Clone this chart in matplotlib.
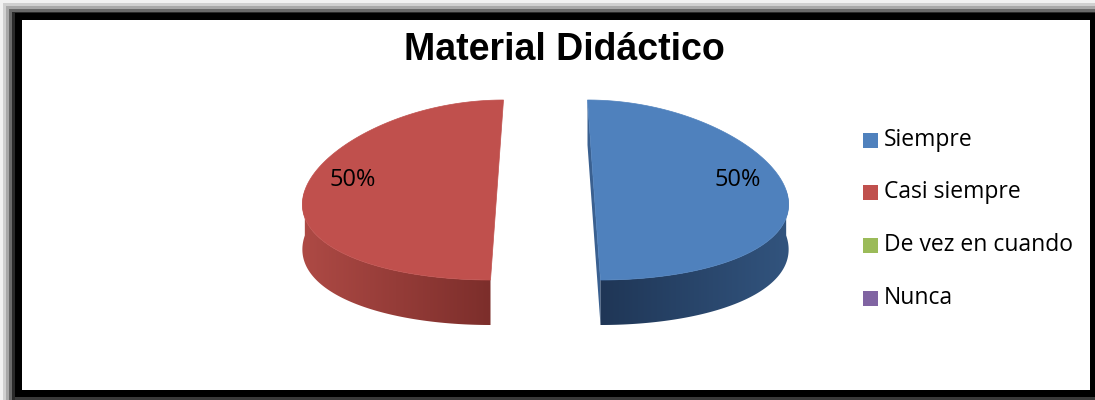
import numpy as np
import matplotlib
matplotlib.use("Agg")
import matplotlib.pyplot as plt
from matplotlib.patches import Polygon, Rectangle
from matplotlib.colors import to_rgb

# Chart data
title = "Material Didáctico"
categories = ["Siempre", "Casi siempre", "De vez en cuando", "Nunca"]
values = [50, 50, 0, 0]
colors = ["#4F81BD", "#C0504D", "#9BBB59", "#8064A2"]
side_shades = {"#4F81BD": ("#32547E", "#1F3656"), "#C0504D": ("#AE4A45", "#7C2E2B")}

# Pie geometry in pixel units (figure is 1095 x 400 px)
W, H = 1095, 400
cx, cy = 545.5, 190.0
a, b = 192.0, 90.0        # semi axes of the top ellipse
depth = 45.0              # thickness of the 3-D pie
explode = 48.5
persp = 0.134             # front drawn wider than back


def project(u, v, h):
    """u: horizontal (px), v: depth in [-1, 1] (+1 = back), h: 0 top .. 1 bottom"""
    x = cx + u * (1 - persp * v)
    y = cy - b * v + depth * h
    return x, y


def gradient_fill(ax, pts, c_left, c_right):
    """Fill a polygon with a left-to-right colour gradient."""
    pts = np.asarray(pts)
    poly = Polygon(pts, closed=True, facecolor="none", edgecolor="none")
    ax.add_patch(poly)
    x0, x1 = pts[:, 0].min(), pts[:, 0].max()
    y0, y1 = pts[:, 1].min(), pts[:, 1].max()
    t = np.linspace(0, 1, 256)[None, :, None]
    img = np.array(to_rgb(c_left))[None, None, :] * (1 - t) + np.array(to_rgb(c_right))[None, None, :] * t
    im = ax.imshow(np.repeat(img, 2, axis=0), extent=(x0, x1, y1, y0), aspect="auto",
                   interpolation="bilinear", zorder=poly.get_zorder())
    im.set_clip_path(poly)


fig = plt.figure(figsize=(W / 100, H / 100), dpi=100)
ax = fig.add_axes([0, 0, 1, 1])

# Frame with soft shadow on top and left
shadow = ["#F2F2F2", "#D0D0D0", "#A8A8A8", "#6A6A6A", "#2A2A2A"]
for i, c in enumerate(shadow):
    ax.add_patch(Rectangle((3 * i, 3 * i), W - 3 * i, H - 3 * i, color=c, lw=0))
ax.add_patch(Rectangle((15, 13), W - 15, 384, color="black", lw=0))
ax.add_patch(Rectangle((15, 397), W - 15, 3, color="#3A3A3A", lw=0))
ax.add_patch(Rectangle((22, 20), 1090 - 22, 390 - 20, color="white", lw=0))

# Slices: first slice starts at 12 o'clock, going clockwise
total = float(sum(values))
start = 90.0
slices = []
for val, col in zip(values, colors):
    sweep = 360.0 * val / total
    if sweep > 0:
        slices.append((start - sweep, start, col))
    start -= sweep

for t0, t1, col in slices:
    mid = np.radians((t0 + t1) / 2)
    du = explode * np.cos(mid)
    dv = explode * np.sin(mid) / a
    phi = np.radians(np.linspace(t0, t1, 300))
    uu = du + a * np.cos(phi)
    vv = dv + np.sin(phi)

    # cut face on the right-hand slice, seen through the gap
    if du > 0:
        for ang in (t0, t1):
            r = np.radians(ang)
            pts = [project(du, dv, 0), project(du + a * np.cos(r), dv + np.sin(r), 0),
                   project(du + a * np.cos(r), dv + np.sin(r), 1), project(du, dv, 1)]
            ax.add_patch(Polygon(pts, closed=True, color="#3A6090", lw=0))

    # outer side, visible on the front half only
    light, dark = side_shades.get(col, (col, col))
    front = np.sin(phi) <= 0.001
    top_edge = [project(x, y, 0) for x, y in zip(uu[front], vv[front])]
    bottom_edge = [project(x, y, 1) for x, y in zip(uu[front], vv[front])]
    if len(top_edge) > 1:
        side = top_edge + bottom_edge[::-1]
        if du < 0:
            gradient_fill(ax, side, light, dark)
        else:
            gradient_fill(ax, side, dark, light)

    # top face
    top = [project(du, dv, 0)] + [project(x, y, 0) for x, y in zip(uu, vv)]
    ax.add_patch(Polygon(top, closed=True, facecolor=col, edgecolor=col, lw=0.5))

    # percentage label
    lx, ly = project(du + 0.75 * a * np.cos(mid), dv, 0)
    ax.text(lx, ly - 10, f"{round(100 * (t1 - t0) / 360)}%", ha="center", va="center",
            fontsize=17, family="Open Sans", color="black")

# Title
ax.text(564, 50, title, ha="center", va="center", fontsize=27, fontweight="bold",
        family="Liberation Sans")

# Legend
leg_y = [140, 192, 245, 298]
for name, col, y in zip(categories, colors, leg_y):
    ax.add_patch(Rectangle((863, y - 7.5), 15, 15, color=col, lw=0))
    ax.text(884, y, name, ha="left", va="center", fontsize=16.5, family="Open Sans")

ax.set_xlim(0, W)
ax.set_ylim(H, 0)
ax.axis("off")

fig.savefig("out.png", dpi=100)
